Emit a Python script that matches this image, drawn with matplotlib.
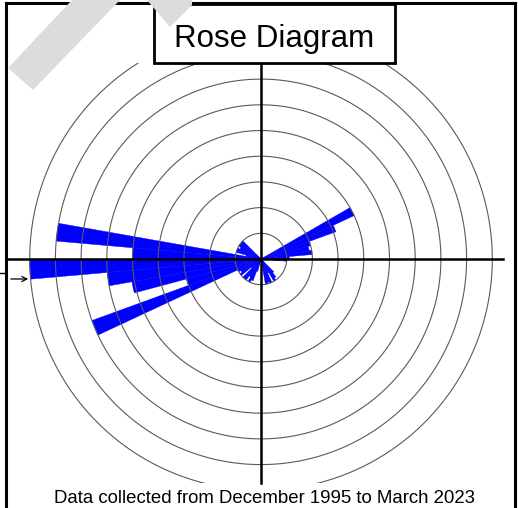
import numpy as np
import matplotlib.pyplot as plt
from matplotlib.lines import Line2D
from matplotlib.patches import Rectangle, Polygon, FancyArrowPatch
from matplotlib.transforms import Bbox, TransformedBbox

plt.rcParams['font.family'] = ['Liberation Sans', 'DejaVu Sans']

# petal data: 5 degree bins, start angle (degrees, counter-clockwise from east)
bin_start = [0, 5, 10, 15, 20, 25,
             135, 140, 145, 150, 155, 160, 165,
             170, 175, 180, 185, 190, 195, 200,
             205, 210, 215, 220, 225, 230, 235, 240, 245, 250,
             280, 285, 290, 295, 300, 305, 310,
             355]
petal_len = [1.1, 2.0, 1.9, 2.0, 3.1, 4.0,
             1.0, 1.0, 1.0, 0.9, 1.0, 1.0, 0.6,
             8.0, 5.0, 9.0, 6.0, 5.1, 3.0, 7.0,
             1.0, 0.9, 1.0, 0.5, 1.0, 1.0, 0.8, 1.0, 0.9, 0.5,
             1.0, 0.95, 1.0, 0.6, 1.0, 0.9, 0.7,
             1.0]
bin_width = 5
rings = [1, 2, 3, 4, 5, 6, 7, 8, 9]

title = 'Rose Diagram'
caption = 'Data collected from December 1995 to March 2023'

W, H = 519, 508
fig = plt.figure(figsize=(W / 100, H / 100), dpi=100)
fig.patch.set_facecolor('white')


def fx(x):
    return x / W


def fy(y):
    return 1 - y / H


# polar axes placed so that the centre sits at (261, 259) px
cx, cy = 261, 259
unit = 25.7
rmax = 10
R = rmax * unit
ax = fig.add_axes([fx(cx - R), fy(cy + R), 2 * R / W, 2 * R / H], projection='polar')
ax.set_ylim(0, rmax)
ax.bar(np.deg2rad(bin_start), petal_len, width=np.deg2rad(bin_width), align='edge',
       color='#0000ff', edgecolor='#0000ff', linewidth=0.3)

# ring circles, clipped to the plotting rectangle
clip = TransformedBbox(Bbox([[fx(7), fy(483)], [fx(503), fy(63)]]), fig.transFigure)
theta = np.linspace(0, 2 * np.pi, 720)
for r in rings:
    ln, = ax.plot(theta, np.full_like(theta, r), color='#5a5a5a', lw=0.8)
    ln.set_clip_box(clip)

ax.set_xticks([])
ax.set_yticks([])
ax.grid(False)
ax.spines['polar'].set_visible(False)
ax.patch.set_visible(False)

# cross hairs
fig.add_artist(Line2D([fx(7), fx(503)], [fy(cy), fy(cy)], color='black', lw=1.8))
fig.add_artist(Line2D([fx(cx), fx(cx)], [fy(63), fy(483)], color='black', lw=1.8))

# small arrow on the left
fig.add_artist(FancyArrowPatch((fx(8), fy(279)), (fx(31), fy(279)), transform=fig.transFigure,
                               arrowstyle='->', mutation_scale=9, lw=0.9, color='black'))
fig.add_artist(Line2D([fx(0), fx(6)], [fy(273), fy(273)], color='black', lw=1.0))

# outer frame
frame_kw = dict(color='black', lw=2.2, solid_capstyle='projecting')
fig.add_artist(Line2D([fx(6), fx(6)], [fy(3), fy(510)], **frame_kw))
fig.add_artist(Line2D([fx(515), fx(515)], [fy(3), fy(510)], **frame_kw))
fig.add_artist(Line2D([fx(6), fx(515)], [fy(3), fy(3)], **frame_kw))

# title box
fig.add_artist(Rectangle((fx(154), fy(63)), (395 - 154) / W, (63 - 4) / H,
                         transform=fig.transFigure, facecolor='white', edgecolor='black',
                         lw=2.0, zorder=5))
fig.text(fx(274), fy(47), title, ha='center', va='baseline', fontsize=22.5, zorder=6)

# caption
fig.text(fx(265), fy(503), caption, ha='center', va='baseline', fontsize=13.4)

# faint watermark strokes
wm = '#dcdcdc'
fig.add_artist(Polygon([(fx(72), fy(0)), (fx(120), fy(0)), (fx(33), fy(90)), (fx(8), fy(68))],
                       closed=True, transform=fig.transFigure, facecolor=wm, edgecolor='none',
                       zorder=10))
fig.add_artist(Polygon([(fx(147), fy(0)), (fx(192), fy(0)), (fx(192), fy(5)), (fx(170), fy(27))],
                       closed=True, transform=fig.transFigure, facecolor=wm, edgecolor='none',
                       zorder=10))

fig.savefig('out.png', dpi=100, facecolor='white')
